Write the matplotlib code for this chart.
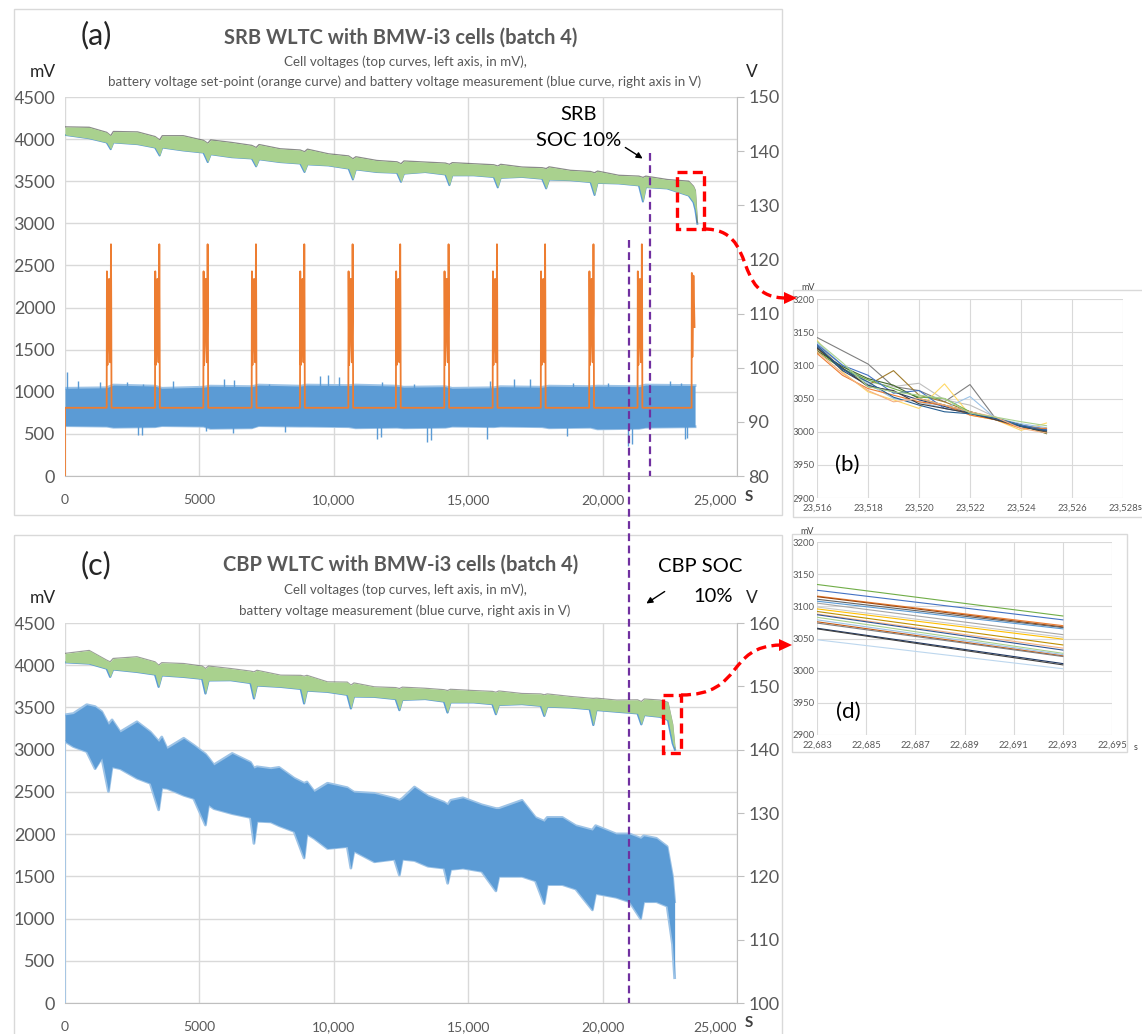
import matplotlib
matplotlib.use('Agg')
import matplotlib.pyplot as plt
from matplotlib.path import Path
from matplotlib.patches import PathPatch, Rectangle, Polygon, FancyArrowPatch
from matplotlib.transforms import Affine2D, blended_transform_factory
from matplotlib.lines import Line2D

W, H = 1142, 1034
plt.rcParams['font.family'] = ['Lato', 'DejaVu Sans']

# ------------------------------------------------------------------ data
x_ticks = [0, 5000, 10000, 15000, 20000, 25000]
x_ticklabels = ['0', '5000', '10,000', '15,000', '20,000', '25,000']
mv_ticks = [0, 500, 1000, 1500, 2000, 2500, 3000, 3500, 4000, 4500]
srb_v_ticks = [80, 90, 100, 110, 120, 130, 140, 150]
cbp_v_ticks = [100, 110, 120, 130, 140, 150, 160]

# (a) SRB: cell voltage band (mV), upper / lower envelope
srb_cell_t = [0, 900, 1550, 1700, 1800, 2700, 3350, 3520, 3620, 4400, 5150, 5310, 5420,
              6200, 6950, 7110, 7220, 8000, 8750, 8910, 9020, 9800, 10550, 10710, 10820,
              11600, 12350, 12500, 12610, 13400, 14150, 14300, 14410, 15200, 15950, 16100, 16210,
              17000, 17750, 17900, 18010, 18800, 19550, 19700, 19810, 20600, 21350, 21500, 21610,
              22400, 23200, 23380, 23450, 23525]
srb_cell_hi = [4145, 4140, 4080, 4040, 4090, 4085, 4030, 3990, 4040, 4040, 3985, 3950, 3990,
               3960, 3925, 3900, 3935, 3885, 3870, 3850, 3880, 3825, 3800, 3766, 3790,
               3746, 3730, 3707, 3740, 3727, 3715, 3700, 3720, 3707, 3695, 3680, 3700,
               3668, 3660, 3650, 3670, 3629, 3615, 3600, 3620, 3570, 3560, 3545, 3560,
               3520, 3500, 3440, 3390, 3010]
srb_cell_lo = [4050, 4010, 3960, 3880, 3960, 3940, 3900, 3805, 3900, 3865, 3840, 3727, 3820,
               3785, 3770, 3676, 3760, 3727, 3710, 3609, 3700, 3687, 3650, 3520, 3640,
               3609, 3600, 3492, 3590, 3609, 3580, 3453, 3570, 3570, 3550, 3426, 3540,
               3551, 3530, 3414, 3520, 3512, 3490, 3336, 3480, 3473, 3450, 3258, 3430,
               3414, 3330, 3250, 3160, 2995]

# (a) SRB battery voltage measurement (V): dense band + individual spikes
srb_batt_t = [0, 1550, 1800, 3350, 3600, 5150, 5400, 6950, 7200, 8750, 9000, 10550, 10800,
              12350, 12600, 14150, 14400, 15950, 16200, 17750, 18000, 19550, 19800, 21350,
              21600, 23440]
srb_batt_hi = [96.2, 96.3, 96.8, 96.6, 96.2, 96.4, 96.6, 96.5, 96.8, 96.6, 96.8, 96.7, 96.8,
               96.6, 96.4, 96.5, 96.2, 96.3, 96.5, 96.4, 96.6, 96.5, 96.6, 96.5, 96.8, 96.7]
srb_batt_lo = [89.3, 89.2, 89.0, 89.1, 89.3, 89.2, 88.8, 88.9, 89.3, 89.2, 89.2, 89.1, 88.9,
               89.0, 88.9, 89.0, 89.2, 89.1, 89.2, 89.1, 88.9, 89.0, 88.7, 88.8, 89.0, 89.1]
srb_batt_spike_t = [60, 500, 1300, 2300, 2900, 4000, 5900, 6300, 7600, 9500, 9800, 10200, 11800,
                    13000, 15800, 16700, 17300, 18900, 20200, 22500, 22900,
                    2700, 2850, 5260, 6250, 8200, 11600, 11750, 13460, 13600, 15690, 18670,
                    20950, 21100, 23060, 23150]
srb_batt_spike_v = [99.3, 97.5, 97.4, 97.3, 97.0, 97.6, 98.0, 97.8, 97.0, 98.5, 98.6, 98.2, 97.3,
                    97.0, 97.5, 97.9, 97.9, 97.2, 97.2, 97.5, 97.2,
                    87.5, 87.6, 88.4, 88.0, 88.2, 86.8, 87.2, 86.2, 86.6, 86.8, 87.3,
                    85.6, 86.0, 86.9, 87.0]

# (a) SRB battery voltage set-point (V)
sp_base = 92.6
sp_spike_t = [1720, 3518, 5316, 7114, 8912, 10710, 12480, 14280, 16080, 17870, 19670, 21470]
sp_spike_off = [-170, -160, -140, -120, -100, -80, -60, -40, -20, -10, 0, 10]
sp_spike_val = [92.6, 117.8, 100.5, 108.0, 113.0, 116.4, 104.0, 101.0, 110.0, 122.8, 112.0, 92.6]
sp_last_t = [23310, 23320, 23340, 23360, 23380, 23420]
sp_last_v = [92.6, 117.5, 102.0, 110.0, 117.0, 107.5]

# (c) CBP cell voltage band (mV)
cbp_cell_t = [0, 900, 1550, 1680, 1790, 2675, 3350, 3483, 3600, 4416, 5100, 5225, 5340,
              6158, 6900, 7029, 7140, 8024, 8770, 8895, 9000, 9765, 10500, 10636, 10750,
              11507, 12300, 12440, 12550, 13400, 14100, 14230, 14340, 15200, 15900, 16030, 16140,
              17000, 17700, 17830, 17940, 18800, 19520, 19655, 19770, 20523, 21300, 21440, 21550,
              22135, 22433, 22608, 22693]
cbp_cell_hi = [4140, 4175, 4060, 4040, 4080, 4100, 4040, 4000, 4030, 4020, 3990, 3961, 3990,
               3961, 3930, 3921, 3940, 3882, 3880, 3870, 3880, 3803, 3800, 3764, 3790,
               3744, 3735, 3724, 3740, 3727, 3710, 3700, 3715, 3700, 3690, 3680, 3695,
               3665, 3660, 3650, 3660, 3630, 3610, 3607, 3610, 3587, 3590, 3570, 3600,
               3587, 3560, 3300, 3020]
cbp_cell_lo = [4035, 4020, 3960, 3862, 3950, 3921, 3890, 3744, 3880, 3862, 3840, 3665, 3820,
               3823, 3790, 3606, 3760, 3744, 3720, 3547, 3700, 3685, 3650, 3488, 3630,
               3626, 3600, 3468, 3590, 3600, 3570, 3440, 3560, 3560, 3540, 3420, 3530,
               3540, 3520, 3400, 3510, 3500, 3480, 3292, 3470, 3450, 3430, 3300, 3410,
               3390, 3351, 3075, 3000]

# (c) CBP battery voltage measurement (V)
cbp_batt_t = [0, 310, 808, 1119, 1368, 1617, 1750, 2052, 2675, 3172,
              3483, 3600, 3794, 4416, 4789, 5225, 5340, 5536, 6220, 6900,
              7029, 7140, 7651, 7962, 8522, 8895, 9000, 9268, 9765, 10500,
              10636, 10750, 11507, 12253, 12440, 12550, 13000, 13500, 14100, 14235,
              14350, 14800, 15500, 16030, 16140, 17000, 17500, 17825, 17940, 18500,
              19000, 19620, 19740, 20500, 21000, 21415, 21530, 22000, 22400, 22600,
              22680]
cbp_batt_hi = [145.5, 145.7, 147.1, 146.8, 146.0, 144.0, 144.7, 142.8, 144.4, 142.8,
               141.3, 142.0, 140.2, 141.8, 140.7, 139.3, 138.7, 137.6, 139.4, 138.0,
               137.1, 137.3, 137.0, 137.2, 135.5, 134.7, 134.9, 133.4, 134.7, 134.0,
               133.6, 133.3, 133.1, 132.3, 132.0, 132.3, 134.1, 132.7, 131.7, 131.3,
               132.0, 132.4, 131.3, 130.7, 130.7, 132.0, 129.3, 128.7, 129.3, 129.3,
               128.0, 127.3, 128.0, 126.7, 126.7, 126.0, 126.4, 126.0, 124.7, 120.0,
               116.0]
cbp_batt_lo = [141.3, 140.5, 139.7, 137.0, 138.7, 133.4, 137.3, 137.0, 135.5, 134.7,
               130.5, 134.0, 133.9, 132.8, 132.3, 128.1, 131.3, 130.7, 129.9, 129.3,
               125.2, 128.7, 128.6, 128.0, 127.1, 122.9, 126.7, 126.0, 124.4, 124.7,
               121.3, 124.0, 122.3, 122.7, 120.2, 122.7, 122.5, 121.6, 121.3, 118.9,
               121.1, 121.3, 120.8, 117.7, 120.0, 120.0, 119.3, 115.7, 118.7, 118.7,
               118.0, 114.7, 117.3, 116.7, 116.0, 113.3, 116.0, 116.0, 115.3, 109.3,
               104.0]

# SOC 10 % markers (s)
srb_soc10_t = 21760
cbp_soc10_t = 21000

# (b) zoom of SRB cell voltages at end of test (mV)
b_t = [23516, 23517, 23518, 23519, 23520, 23521, 23522, 23523, 23524, 23525]
b_cells = [
    [3142, 3122, 3102, 3068, 3062, 3045, 3071, 3020, 3010, 3004],
    [3130, 3100, 3075, 3068, 3073, 3048, 3040, 3022, 3010, 3002],
    [3125, 3095, 3070, 3092, 3055, 3045, 3030, 3020, 3008, 3000],
    [3138, 3090, 3060, 3048, 3035, 3072, 3025, 3018, 3002, 3013],
    [3135, 3100, 3072, 3050, 3045, 3035, 3053, 3020, 3012, 3006],
    [3120, 3095, 3078, 3065, 3052, 3050, 3030, 3020, 3010, 2998],
    [3128, 3092, 3070, 3060, 3048, 3038, 3028, 3018, 3008, 3001],
    [3122, 3098, 3080, 3070, 3050, 3040, 3030, 3020, 3010, 2997],
    [3132, 3100, 3085, 3058, 3062, 3035, 3028, 3020, 3010, 3003],
    [3118, 3085, 3065, 3055, 3045, 3040, 3025, 3018, 3005, 3005],
    [3126, 3096, 3068, 3062, 3042, 3035, 3028, 3018, 3008, 2999],
    [3130, 3094, 3075, 3052, 3040, 3030, 3027, 3020, 3008, 3002],
    [3121, 3088, 3062, 3045, 3050, 3040, 3030, 3022, 3005, 2998],
    [3136, 3104, 3068, 3060, 3055, 3050, 3028, 3022, 3015, 3009],
]
b_colors = ['#7F7F7F', '#BFBFBF', '#A07C2C', '#FFD966', '#9DC3E6', '#70AD47', '#264478',
            '#43682B', '#4472C4', '#ED7D31', '#404040', '#255E91', '#F4B183', '#A9D18E']
b_xticks = [23516, 23518, 23520, 23522, 23524, 23526, 23528]
b_xticklabels = ['23,516', '23,518', '23,520', '23,522', '23,524', '23,526', '23,528']

# (d) zoom of CBP cell voltages at end of test (mV)
d_t = [22683, 22693]
d_start = [3134, 3125, 3116, 3115, 3111, 3108, 3105, 3099, 3096, 3092, 3088, 3087, 3083,
           3079, 3076, 3074, 3066, 3065, 3048]
d_end = [3085, 3079, 3070, 3068, 3067, 3065, 3056, 3052, 3049, 3040, 3035, 3032, 3027,
         3025, 3023, 3022, 3011, 3009, 3003]
d_colors = ['#70AD47', '#4472C4', '#ED7D31', '#9E480E', '#636363', '#5B9BD5', '#A5A5A5',
            '#C9C9C9', '#FFC000', '#BF9000', '#F4B183', '#2F5597', '#A9D18E', '#9DC3E6',
            '#C55A11', '#7F7F7F', '#1F3864', '#404040', '#BDD7EE']
d_xticks = [22683, 22685, 22687, 22689, 22691, 22693, 22695]
d_xticklabels = ['22,683', '22,685', '22,687', '22,689', '22,691', '22,693', '22,695']

inset_yticks = [2900, 2950, 3000, 3050, 3100, 3150, 3200]
inset_yticklabels = ['2900', '3950', '3000', '3050', '3100', '3150', '3200']

# ------------------------------------------------------------------ figure
fig = plt.figure(figsize=(W / 100, H / 100), dpi=100)
PX = Affine2D().scale(1 / W, -1 / H).translate(0, 1) + fig.transFigure

GRID = '#D9D9D9'
TXT = '#595959'
GREEN = '#A9D18E'
BLUE = '#5B9BD5'
LBLUE = '#9DC3E6'
ORANGE = '#ED7D31'
PURPLE = '#7030A0'
RED = '#FF0000'


def ftext(x, y, s, **kw):
    kw.setdefault('ha', 'center')
    kw.setdefault('va', 'center')
    fig.text(x / W, 1 - y / H, s, **kw)


def add_ax(l, t, r, b):
    return fig.add_axes([l / W, 1 - b / H, (r - l) / W, (b - t) / H])


def style_main(ax, ax2, vlim, vticks):
    ax.set_xlim(0, 25000)
    ax.set_ylim(0, 4500)
    ax.set_xticks(x_ticks)
    ax.set_xticklabels(x_ticklabels)
    ax.get_xticklabels()[-1].set_ha('right')
    ax.set_yticks(mv_ticks)
    ax.set_yticklabels([str(v) for v in mv_ticks])
    ax.grid(True, color=GRID, lw=1)
    ax.set_axisbelow(True)
    for s in ['top', 'left', 'right']:
        ax.spines[s].set_visible(False)
    ax.spines['bottom'].set_color('#BFBFBF')
    ax.tick_params(axis='both', length=0, colors=TXT)
    ax.tick_params(axis='y', labelsize=13, pad=7)
    ax.tick_params(axis='x', labelsize=10, pad=13)
    ax2.set_ylim(*vlim)
    ax2.set_yticks(vticks)
    for s in ['top', 'left', 'bottom']:
        ax2.spines[s].set_visible(False)
    ax2.spines['right'].set_color('#BFBFBF')
    ax2.tick_params(axis='y', length=5, color='#BFBFBF', labelcolor=TXT,
                    labelsize=13, pad=3)


def style_inset(ax, xlim, xticks, xlabels):
    ax.set_xlim(*xlim)
    ax.set_ylim(2900, 3200)
    ax.set_xticks(xticks)
    ax.set_xticklabels(xlabels)
    ax.set_yticks(inset_yticks)
    ax.set_yticklabels(inset_yticklabels)
    ax.grid(True, color=GRID, lw=0.8)
    ax.set_axisbelow(True)
    for s in ax.spines.values():
        s.set_visible(False)
    ax.tick_params(axis='both', length=0, colors=TXT, labelsize=6.8)
    ax.tick_params(axis='y', pad=2)
    ax.tick_params(axis='x', pad=4)


# panel frames
for (x0, y0, x1, y1) in [(14, 9, 782, 515), (14, 535, 782, 1060),
                         (793, 290, 1160, 517), (792, 534, 1127, 752)]:
    fig.add_artist(Rectangle((x0, y0), x1 - x0, y1 - y0, transform=PX, fill=False,
                             edgecolor=GRID, lw=1))

# ---------------- panel (a)
ax_a = add_ax(65, 97, 737, 476)
ax_a2 = ax_a.twinx()
style_main(ax_a, ax_a2, (80, 150), srb_v_ticks)

ax_a.plot(srb_cell_t, srb_cell_lo, color=BLUE, lw=1.4, zorder=2)
ax_a.plot(srb_cell_t, srb_cell_hi, color='#595959', lw=1.0, zorder=2, alpha=0.7)
ax_a.fill_between(srb_cell_t, srb_cell_lo, srb_cell_hi, color=GREEN, lw=0, zorder=3)

ax_a2.plot(srb_batt_t, srb_batt_hi, color=LBLUE, lw=2.0, zorder=1)
ax_a2.plot(srb_batt_t, srb_batt_lo, color=LBLUE, lw=2.0, zorder=1)
ax_a2.fill_between(srb_batt_t, srb_batt_lo, srb_batt_hi, color=BLUE, lw=0, zorder=1)
ax_a2.vlines(srb_batt_spike_t, sp_base, srb_batt_spike_v, color=BLUE, lw=1.0, zorder=1)
# set-point series
sp_t = [0, 0]
sp_v = [80, sp_base]
for ts in sp_spike_t:
    for off, val in zip(sp_spike_off, sp_spike_val):
        sp_t.append(ts + off)
        sp_v.append(val)
sp_t += sp_last_t
sp_v += sp_last_v
ax_a2.plot(sp_t, sp_v, color=ORANGE, lw=1.3, zorder=2)

# ---------------- panel (c)
ax_c = add_ax(65, 623, 737, 1003)
ax_c2 = ax_c.twinx()
style_main(ax_c, ax_c2, (100, 160), cbp_v_ticks)

ax_c.plot(cbp_cell_t, cbp_cell_lo, color=BLUE, lw=1.6, zorder=2)
ax_c.plot(cbp_cell_t, cbp_cell_hi, color='#595959', lw=0.9, zorder=2, alpha=0.6)
ax_c.fill_between(cbp_cell_t, cbp_cell_lo, cbp_cell_hi, color=GREEN, lw=0, zorder=3)

ax_c2.plot(cbp_batt_t, cbp_batt_hi, color=LBLUE, lw=2.0, zorder=1)
ax_c2.plot(cbp_batt_t, cbp_batt_lo, color=LBLUE, lw=2.0, zorder=1)
ax_c2.fill_between(cbp_batt_t, cbp_batt_lo, cbp_batt_hi, color=BLUE, lw=0, zorder=1)
ax_c2.vlines(cbp_batt_t[0], 100, cbp_batt_lo[0], color=LBLUE, lw=1.2, zorder=1)

# ---------------- titles and labels
for (y_lab, y_title, y_s1, y_s2, lab, title, sub1, sub2, ymv) in [
        (35, 38, 62, 82, '(a)', 'SRB WLTC with BMW-i3 cells (batch 4)',
         'Cell voltages (top curves, left axis, in mV),',
         'battery voltage set-point (orange curve) and battery voltage measurement (blue curve, right axis in V)', 72),
        (565, 565, 590, 611, '(c)', 'CBP WLTC with BMW-i3 cells (batch 4)',
         'Cell voltages (top curves, left axis, in mV),',
         'battery voltage measurement (blue curve, right axis in V)', 598)]:
    ftext(96, y_lab, lab, fontsize=22, color='#262626')
    ftext(401, y_title, title, fontsize=14.5, fontweight='bold', color=TXT)
    ftext(405, y_s1, sub1, fontsize=9.6, color=TXT)
    ftext(405, y_s2, sub2, fontsize=9.6, color=TXT)
    ftext(43, ymv, 'mV', fontsize=12.5, color='#262626')
    ftext(752, ymv, 'V', fontsize=12.5, color='#262626')
ftext(745, 497, 'S', fontsize=11, fontweight='bold', color='#404040', ha='left')
ftext(745, 1023, 'S', fontsize=11, fontweight='bold', color='#404040', ha='left')

# SOC annotations
ftext(579, 114, 'SRB', fontsize=14.5, color='black')
ftext(579, 140, 'SOC 10%', fontsize=14.5, color='black')
fig.add_artist(FancyArrowPatch((623, 146), (645, 160), transform=PX,
               arrowstyle='-|>', mutation_scale=9, color='black', lw=1))
ftext(700, 567, 'CBP SOC', fontsize=14.5, color='black')
ftext(713, 596, '10%', fontsize=14.5, color='black')
fig.add_artist(FancyArrowPatch((667, 590), (644, 605), transform=PX,
               arrowstyle='-|>', mutation_scale=9, color='black', lw=1))

# purple SOC lines (x from data, y extent in figure pixels)
tr_a = blended_transform_factory(ax_a.transData, PX)
tr_c = blended_transform_factory(ax_c.transData, PX)
fig.add_artist(Line2D([srb_soc10_t, srb_soc10_t], [153, 476], transform=tr_a,
                      color=PURPLE, lw=1.6, ls=(0, (3.5, 2))))
fig.add_artist(Line2D([cbp_soc10_t, cbp_soc10_t], [240, 1003], transform=tr_c,
                      color=PURPLE, lw=1.6, ls=(0, (3.5, 2))))

# red dashed zoom boxes and connectors
RED_LS = (0, (3, 1.6))
fig.add_artist(Rectangle((677, 172), 27, 57, transform=PX, fill=False, edgecolor=RED,
                         lw=2.4, ls=RED_LS))
fig.add_artist(Rectangle((663, 695), 18, 58, transform=PX, fill=False, edgecolor=RED,
                         lw=2.4, ls=RED_LS))
p1 = Path([(704, 229), (760, 229), (730, 298), (786, 298)],
          [Path.MOVETO, Path.CURVE4, Path.CURVE4, Path.CURVE4])
fig.add_artist(PathPatch(p1, transform=PX, fill=False, edgecolor=RED, lw=2.4, ls=RED_LS))
fig.add_artist(Polygon([(797, 298), (784, 292), (784, 304)], closed=True, transform=PX,
                       facecolor=RED, edgecolor='none'))
p2 = Path([(681, 695), (745, 695), (725, 646), (781, 645)],
          [Path.MOVETO, Path.CURVE4, Path.CURVE4, Path.CURVE4])
fig.add_artist(PathPatch(p2, transform=PX, fill=False, edgecolor=RED, lw=2.4, ls=RED_LS))
fig.add_artist(Polygon([(792, 645), (779, 639), (779, 651)], closed=True, transform=PX,
                       facecolor=RED, edgecolor='none'))

# ---------------- inset (b)
ax_b = add_ax(817, 299, 1123, 498)
style_inset(ax_b, (23516, 23528), b_xticks, b_xticklabels)
for vals, col in zip(b_cells, b_colors):
    ax_b.plot(b_t, vals, color=col, lw=0.8)
ftext(808, 287, 'mV', fontsize=6.5, color='#404040')
ftext(1140, 508, 's', fontsize=6.5, color='#404040')
ftext(847, 465, '(b)', fontsize=16, color='black')

# ---------------- inset (d)
ax_d = add_ax(817, 542, 1112, 735)
style_inset(ax_d, (22683, 22695), d_xticks, d_xticklabels)
for s0, s1, col in zip(d_start, d_end, d_colors):
    ax_d.plot(d_t, [s0, s1], color=col, lw=0.8)
ftext(807, 532, 'mV', fontsize=6.5, color='#404040')
ftext(1136, 747, 's', fontsize=6.5, color='#404040')
ftext(848, 712, '(d)', fontsize=16, color='black')

fig.savefig('out.png', dpi=100)
